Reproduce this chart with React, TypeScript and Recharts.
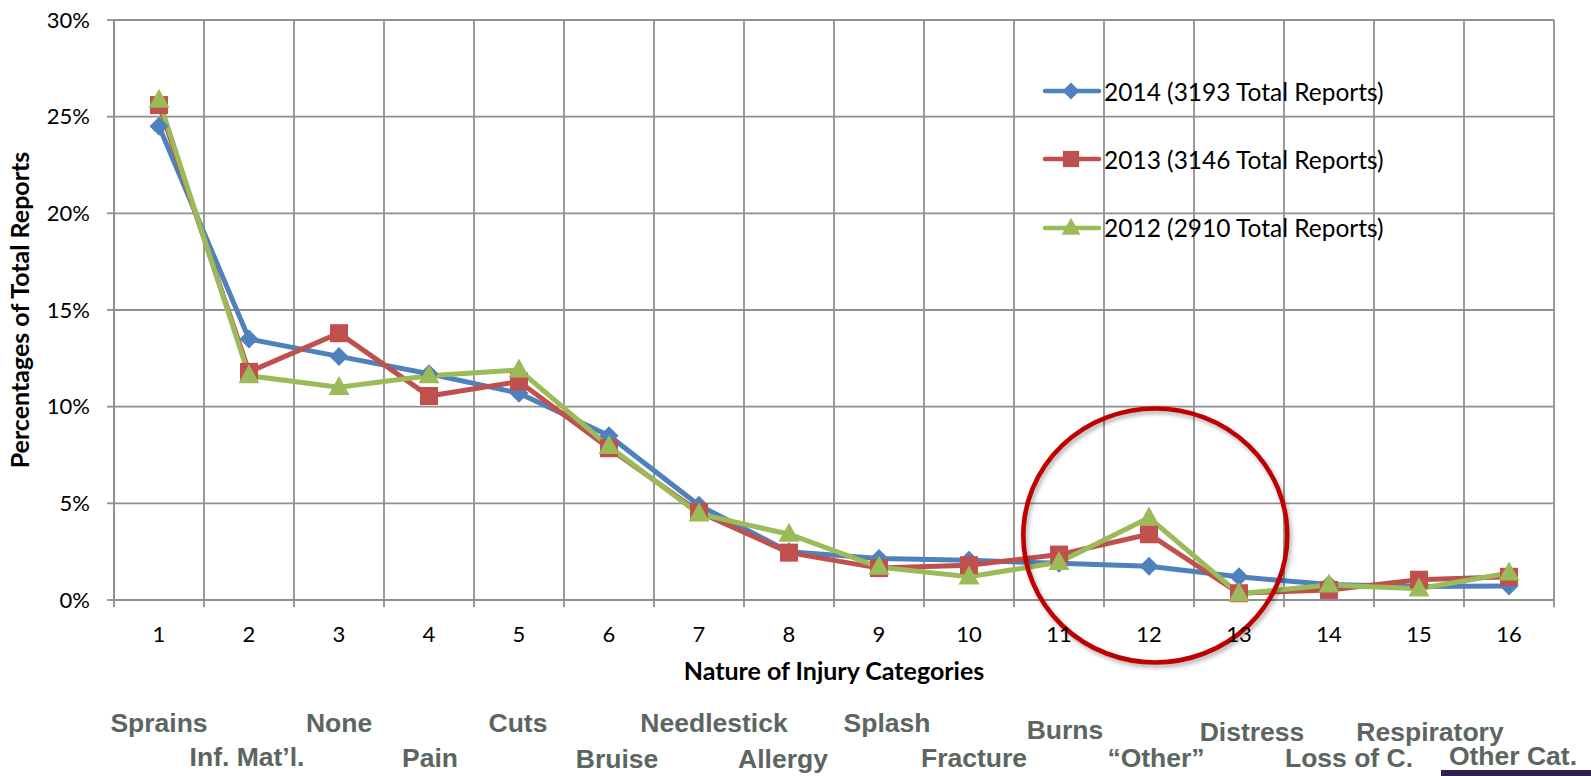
import React from "react";
import {
  LineChart,
  Line,
  XAxis,
  YAxis,
  CartesianGrid,
  ReferenceLine,
  ReferenceDot,
  Legend,
} from "recharts";

const categories = [1, 2, 3, 4, 5, 6, 7, 8, 9, 10, 11, 12, 13, 14, 15, 16];
const injuryNames = [
  "Sprains",
  "Inf. Mat\u2019l.",
  "None",
  "Pain",
  "Cuts",
  "Bruise",
  "Needlestick",
  "Allergy",
  "Splash",
  "Fracture",
  "Burns",
  "\u201cOther\u201d",
  "Distress",
  "Loss of C.",
  "Respiratory",
  "Other Cat.",
];
const pct2014 = [24.5, 13.5, 12.6, 11.7, 10.7, 8.5, 4.9, 2.5, 2.15, 2.05, 1.9, 1.75, 1.2, 0.8, 0.7, 0.72];
const pct2013 = [25.6, 11.8, 13.8, 10.55, 11.3, 7.85, 4.55, 2.45, 1.65, 1.8, 2.35, 3.4, 0.35, 0.52, 1.05, 1.2];
const pct2012 = [25.85, 11.6, 11.0, 11.6, 11.9, 7.95, 4.45, 3.4, 1.7, 1.2, 1.95, 4.25, 0.32, 0.78, 0.58, 1.4];
const yTicks = [0, 5, 10, 15, 20, 25, 30];

const SERIES = [
  { key: "s2014", name: "2014 (3193 Total Reports)", color: "#4f81bd", shape: "diamond" },
  { key: "s2013", name: "2013 (3146 Total Reports)", color: "#c0504d", shape: "square" },
  { key: "s2012", name: "2012 (2910 Total Reports)", color: "#9bbb59", shape: "triangle" },
];

// hand placement of the slide's category names under the axis: [dx, baseline below axis]
const NAME_NUDGE: [number, number][] = [
  [0, 132], [-2, 166], [0, 132], [1, 167], [-1, 132], [8, 168], [15, 132], [-6, 168],
  [8, 132], [5, 167], [6, 139], [7, 167], [13, 141], [20, 167], [11, 141], [4, 165],
];

const GRID = "#8f8f8f";
const FONT = "Lato, 'Open Sans', sans-serif";

const data = categories.map((c, i) => ({
  cat: c,
  s2014: pct2014[i],
  s2013: pct2013[i],
  s2012: pct2012[i],
}));

// boundaries between categories, where Excel puts the vertical gridlines
const boundaries = [...categories.map((c) => c - 0.5), categories.length + 0.5];

function Marker({ cx, cy, shape, color, scale = 1 }: any) {
  if (cx == null || cy == null) return null;
  if (shape === "diamond") {
    const r = 9.5 * scale;
    return (
      <polygon
        points={`${cx},${cy - r} ${cx + r},${cy} ${cx},${cy + r} ${cx - r},${cy}`}
        fill={color}
      />
    );
  }
  if (shape === "square") {
    const h = 9 * scale;
    return <rect x={cx - h} y={cy - h} width={h * 2} height={h * 2} fill={color} />;
  }
  const w = 10.5 * scale;
  const h = 19 * scale;
  return (
    <polygon
      points={`${cx},${cy - h * 0.6} ${cx + w},${cy + h * 0.4} ${cx - w},${cy + h * 0.4}`}
      fill={color}
    />
  );
}

function CategoryTick({ x, y, payload }: any) {
  const i = payload.value - 1;
  const [dx, by] = NAME_NUDGE[i];
  return (
    <g>
      <text x={x} y={y + 42} textAnchor="middle" fontSize={22} fill="#000" fontFamily={FONT}>
        {payload.value}
      </text>
      <text
        x={x + dx}
        y={y + by}
        textAnchor="middle"
        fontSize={26.5}
        fontWeight="bold"
        fill="#5c6660"
        fontFamily="'Liberation Sans', Arial, sans-serif"
      >
        {injuryNames[i]}
      </text>
    </g>
  );
}

function SeriesLegend() {
  return (
    <div style={{ fontFamily: FONT }}>
      {SERIES.map((s) => (
        <div key={s.key} style={{ display: "flex", alignItems: "center", height: 68.3 }}>
          <svg width={60} height={24}>
            <line x1={3} y1={12} x2={57} y2={12} stroke={s.color} strokeWidth={4.5} strokeLinecap="round" />
            <Marker cx={29} cy={12} shape={s.shape} color={s.color} scale={0.9} />
          </svg>
          <span style={{ fontSize: 24.5, color: "#000", marginLeft: 2 }}>{s.name}</span>
        </div>
      ))}
    </div>
  );
}

export default function App() {
  return (
    <div style={{ position: "absolute", left: 0, top: 0, width: 1591, height: 776, background: "#fff", fontFamily: FONT }}>
      <LineChart
        width={1591}
        height={776}
        data={data}
        margin={{ top: 20, right: 37, bottom: 0, left: 0 }}
      >
        <CartesianGrid vertical={false} stroke={GRID} strokeWidth={1.8} />
        {boundaries.map((b) => (
          <ReferenceLine
            key={b}
            segment={[
              { x: b, y: -0.37 },
              { x: b, y: 30 },
            ]}
            stroke={GRID}
            strokeWidth={1.8}
            ifOverflow="visible"
          />
        ))}
        <XAxis
          dataKey="cat"
          type="number"
          domain={[0.5, 16.5]}
          ticks={categories}
          interval={0}
          height={176}
          tickLine={false}
          tickSize={0}
          tickMargin={0}
          axisLine={{ stroke: GRID, strokeWidth: 1.8 }}
          tick={<CategoryTick />}
          label={{
            value: "Nature of Injury Categories",
            position: "insideTop",
            offset: 62,
            style: { fontSize: 25, fontWeight: "bold", fill: "#000", fontFamily: FONT },
          }}
        />
        <YAxis
          type="number"
          domain={[0, 30]}
          ticks={yTicks}
          width={114}
          tickSize={7}
          tickMargin={17}
          tickFormatter={(v) => `${v}%`}
          tick={{ fontSize: 22, fill: "#000", fontFamily: FONT }}
          tickLine={{ stroke: GRID, strokeWidth: 1.8 }}
          axisLine={{ stroke: GRID, strokeWidth: 1.8 }}
          label={{
            value: "Percentages of Total Reports",
            angle: -90,
            position: "insideLeft",
            offset: 20,
            style: { textAnchor: "middle", fontSize: 25, fontWeight: "bold", fill: "#000", fontFamily: FONT },
          }}
        />
        {SERIES.map((s) => (
          <Line
            key={s.key}
            type="linear"
            dataKey={s.key}
            name={s.name}
            stroke={s.color}
            strokeWidth={5}
            isAnimationActive={false}
            dot={(p: any) => <Marker key={`${s.key}-${p.index}`} cx={p.cx} cy={p.cy} shape={s.shape} color={s.color} />}
            activeDot={false}
          />
        ))}
        <ReferenceDot
          x={12.07}
          y={3.34}
          ifOverflow="visible"
          shape={(p: any) => (
            <ellipse
              cx={p.cx}
              cy={p.cy}
              rx={132}
              ry={127}
              fill="none"
              stroke="#c00000"
              strokeWidth={4.6}
              style={{ filter: "drop-shadow(2px 3px 2px rgba(0,0,0,0.3))" }}
            />
          )}
        />
        <Legend
          layout="vertical"
          align="center"
          verticalAlign="middle"
          content={<SeriesLegend />}
          wrapperStyle={{ left: 1042, top: 57, width: 390, height: 210 }}
        />
      </LineChart>
      <div style={{ position: "absolute", left: 1441, top: 770, width: 150, height: 6, background: "#30204f" }} />
    </div>
  );
}
